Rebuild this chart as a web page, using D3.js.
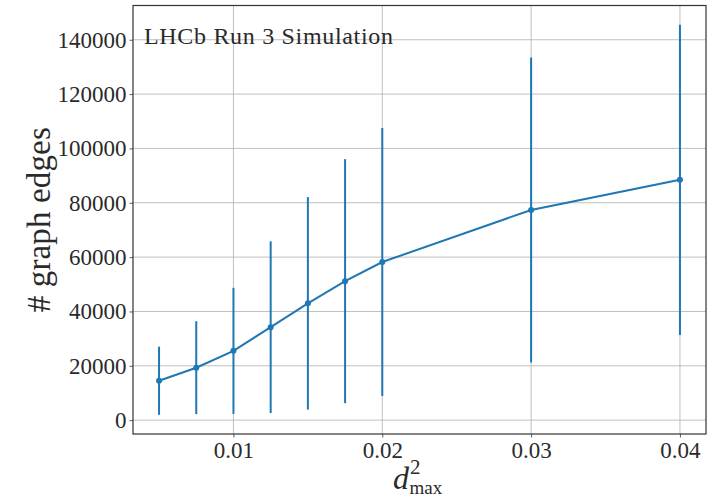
<html lang="en">
<head>
<meta charset="utf-8" />
<title>graph edges vs d2max</title>
<script src="https://d3js.org/d3.v7.min.js"></script>
<style>
  body { margin: 0; background: #fff; }
  text { font-family: "Liberation Serif", "DejaVu Serif", serif; fill: #2a2a2a; }
</style>
</head>
<body>
<div id="svgContainer"></div>
<script>
  var width = 715,
      height = 500;

  // data
  var dmax2  = [0.005, 0.0075, 0.01, 0.0125, 0.015, 0.0175, 0.02, 0.03, 0.04];
  var edges  = [14500, 19300, 25500, 34200, 43000, 51150, 58200, 77350, 88450];
  var errors = [12550, 17100, 23200, 31600, 39100, 44900, 49300, 56150, 57100];
  var xTicks = [0.01, 0.02, 0.03, 0.04];
  var yTicks = [0, 20000, 40000, 60000, 80000, 100000, 120000, 140000];

  var margin = {left: 133, top: 5.5, right: 9, bottom: 66};

  var svg = d3.select("#svgContainer")
              .append("svg")
              .attr("width", width)
              .attr("height", height);

  var x = d3.scaleLinear()
            .domain([0.00325, 0.04175])
            .range([margin.left, width - margin.right]);
  var y = d3.scaleLinear()
            .domain([-5100, 152600])
            .range([height - margin.bottom, margin.top]);

  // grid
  svg.append("g").selectAll("line.gx")
     .data(xTicks).enter().append("line")
     .attr("x1", function(d) { return x(d); })
     .attr("x2", function(d) { return x(d); })
     .attr("y1", y.range()[0]).attr("y2", y.range()[1])
     .attr("stroke", "#b0b0b0").attr("stroke-width", 0.8);
  svg.append("g").selectAll("line.gy")
     .data(yTicks).enter().append("line")
     .attr("y1", function(d) { return y(d); })
     .attr("y2", function(d) { return y(d); })
     .attr("x1", x.range()[0]).attr("x2", x.range()[1])
     .attr("stroke", "#b0b0b0").attr("stroke-width", 0.8);

  // axes
  var xAxis = svg.append("g")
     .attr("transform", "translate(0," + y.range()[0] + ")")
     .call(d3.axisBottom(x).tickValues(xTicks).tickSize(3.5).tickPadding(4)
             .tickFormat(function(d) { return String(d); }));
  var yAxis = svg.append("g")
     .attr("transform", "translate(" + x.range()[0] + ",0)")
     .call(d3.axisLeft(y).tickValues(yTicks).tickSize(3.5).tickPadding(3)
             .tickFormat(function(d) { return String(d); }));
  [xAxis, yAxis].forEach(function(a) {
    a.select(".domain").remove();
    a.selectAll(".tick line").attr("stroke", "#333").attr("stroke-width", 0.8);
    a.selectAll(".tick text")
     .attr("font-family", "'Liberation Serif', serif")
     .attr("font-size", 23).attr("fill", "#2a2a2a");
  });

  // frame
  svg.append("rect")
     .attr("x", x.range()[0]).attr("y", y.range()[1])
     .attr("width", x.range()[1] - x.range()[0])
     .attr("height", y.range()[0] - y.range()[1])
     .attr("fill", "none").attr("stroke", "#333").attr("stroke-width", 1.2);

  // error bars
  svg.append("g").selectAll("line.err")
     .data(dmax2).enter().append("line")
     .attr("x1", function(d) { return x(d); })
     .attr("x2", function(d) { return x(d); })
     .attr("y1", function(d, i) { return y(edges[i] - errors[i]); })
     .attr("y2", function(d, i) { return y(edges[i] + errors[i]); })
     .attr("stroke", "#1f77b4").attr("stroke-width", 2);

  // mean line
  var line = d3.line()
               .x(function(d) { return x(d); })
               .y(function(d, i) { return y(edges[i]); });
  svg.append("path")
     .datum(dmax2)
     .attr("d", line)
     .attr("fill", "none")
     .attr("stroke", "#1f77b4").attr("stroke-width", 2);

  svg.append("g").selectAll("circle")
     .data(dmax2).enter().append("circle")
     .attr("cx", function(d) { return x(d); })
     .attr("cy", function(d, i) { return y(edges[i]); })
     .attr("r", 3)
     .attr("fill", "#1f77b4");

  // annotation
  svg.append("text")
     .attr("x", 144).attr("y", 44)
     .attr("font-size", 24)
     .attr("textLength", 249)
     .attr("lengthAdjust", "spacing")
     .text("LHCb Run 3 Simulation");

  // axis labels
  svg.append("text")
     .attr("transform", "translate(50," + ((y.range()[0] + y.range()[1]) / 2) + ") rotate(-90)")
     .attr("text-anchor", "middle")
     .attr("font-size", 33)
     .attr("textLength", 185)
     .attr("lengthAdjust", "spacing")
     .text("# graph edges");

  var xl = svg.append("text")
     .attr("x", 393)
     .attr("y", 489);
  xl.append("tspan").attr("font-size", 32).attr("font-style", "italic").text("d");
  xl.append("tspan").attr("font-size", 21).attr("dx", 1).attr("dy", -15).text("2");
  xl.append("tspan").attr("font-size", 19).attr("dx", -11).attr("dy", 20).text("max");
</script>
</body>
</html>
